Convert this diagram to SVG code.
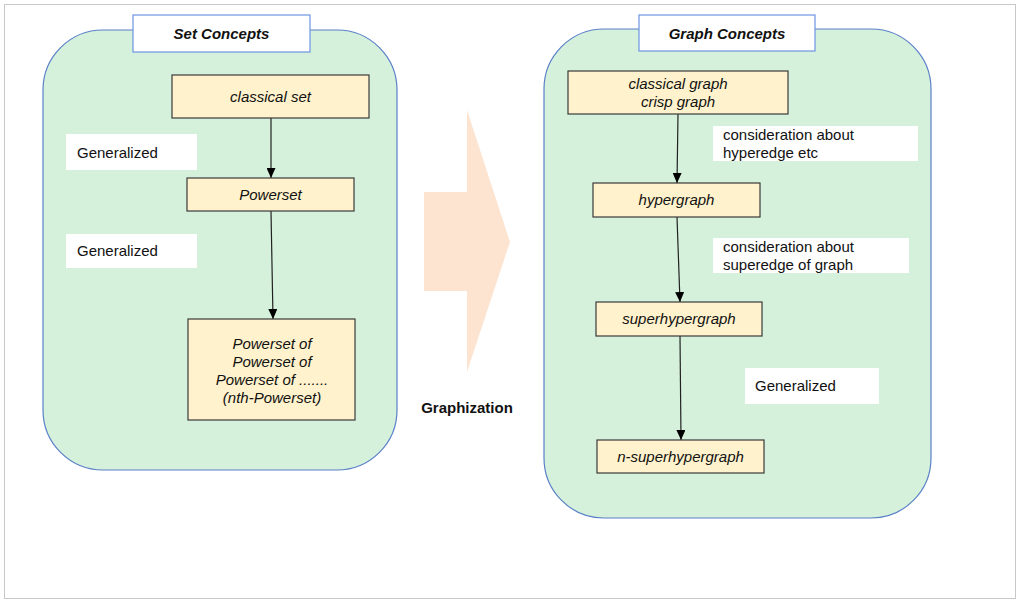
<svg xmlns="http://www.w3.org/2000/svg" width="1016" height="599" viewBox="0 0 1016 599">
<defs>
<marker id="ah" markerWidth="10" markerHeight="9" refX="10" refY="4.5" orient="auto" markerUnits="userSpaceOnUse" viewBox="0 0 10 9">
<path d="M0,0 L10,4.5 L0,9 Z" fill="#000"/>
</marker>
<style>
text{font-family:"Liberation Sans",Arial,sans-serif;font-size:15px;fill:#111}
.cont{fill:#d5f0db;stroke:#5a80c8;stroke-width:1.2}
.title{fill:#fff;stroke:#6d95e0;stroke-width:1.2}
.tt{font-weight:bold;font-style:italic;text-anchor:middle}
.box{fill:#fff2cc;stroke:#3a3a3a;stroke-width:1.2}
.bt{font-style:italic;text-anchor:middle}
.lbl{fill:#fff}
.conn line{stroke:#222;stroke-width:1.2}
</style>
</defs>
<rect x="4.5" y="4.5" width="1011" height="594" fill="#fff" stroke="#c8c8c8" stroke-width="1"/>
<g id="set-container">
<rect class="cont" x="43" y="30" width="354" height="440" rx="60" ry="60"/>
<rect class="title" x="133" y="15" width="177" height="37"/>
<text class="tt" x="221.5" y="39">Set Concepts</text>
</g>
<g id="graph-container">
<rect class="cont" x="544" y="29" width="387" height="489" rx="60" ry="60"/>
<rect class="title" x="639" y="15" width="176" height="36"/>
<text class="tt" x="727" y="38.5">Graph Concepts</text>
</g>
<g id="graphization">
<polygon points="424,192 467,192 467,110 510,242 467,372 467,291 424,291" fill="#fde4d0"/>
<text x="467" y="413" style="font-weight:bold;text-anchor:middle">Graphization</text>
</g>
<g id="lbl-gen1"><rect class="lbl" x="66" y="134" width="131" height="36"/><text x="77" y="158">Generalized</text></g>
<g id="lbl-gen2"><rect class="lbl" x="66" y="234" width="131" height="34"/><text x="77" y="256">Generalized</text></g>
<g id="lbl-hyperedge"><rect class="lbl" x="713" y="126" width="205" height="35"/><text x="723" y="140">consideration about</text><text x="723" y="158">hyperedge etc</text></g>
<g id="lbl-superedge"><rect class="lbl" x="713" y="238" width="196" height="35"/><text x="723" y="252">consideration about</text><text x="723" y="270">superedge of graph</text></g>
<g id="lbl-gen3"><rect class="lbl" x="745" y="368" width="134" height="36"/><text x="755" y="391">Generalized</text></g>
<g class="conn" id="connectors">
<line x1="271" y1="118" x2="271" y2="178" marker-end="url(#ah)"/>
<line x1="271" y1="211" x2="273" y2="319" marker-end="url(#ah)"/>
<line x1="678" y1="114" x2="677" y2="183" marker-end="url(#ah)"/>
<line x1="677" y1="217" x2="680" y2="302" marker-end="url(#ah)"/>
<line x1="680" y1="336" x2="681" y2="440" marker-end="url(#ah)"/>
</g>
<g id="classical-set"><rect class="box" x="172" y="75" width="197" height="43"/><text class="bt" x="270.5" y="102">classical set</text></g>
<g id="powerset"><rect class="box" x="187" y="178" width="167" height="33"/><text class="bt" x="270.5" y="200">Powerset</text></g>
<g id="nth-powerset"><rect class="box" x="188" y="319" width="167" height="101"/>
<text class="bt" x="272" y="349">Powerset of</text>
<text class="bt" x="272" y="367">Powerset of</text>
<text class="bt" x="272" y="385">Powerset of .......</text>
<text class="bt" x="272" y="403">(nth-Powerset)</text></g>
<g id="classical-graph"><rect class="box" x="568" y="71" width="220" height="43"/>
<text class="bt" x="678" y="89">classical graph</text>
<text class="bt" x="678" y="107">crisp graph</text></g>
<g id="hypergraph"><rect class="box" x="593" y="183" width="167" height="34"/><text class="bt" x="676.5" y="205">hypergraph</text></g>
<g id="superhypergraph"><rect class="box" x="596" y="302" width="166" height="34"/><text class="bt" x="679" y="324">superhypergraph</text></g>
<g id="n-superhypergraph"><rect class="box" x="597" y="440" width="167" height="33"/><text class="bt" x="680.5" y="462">n-superhypergraph</text></g>
</svg>
